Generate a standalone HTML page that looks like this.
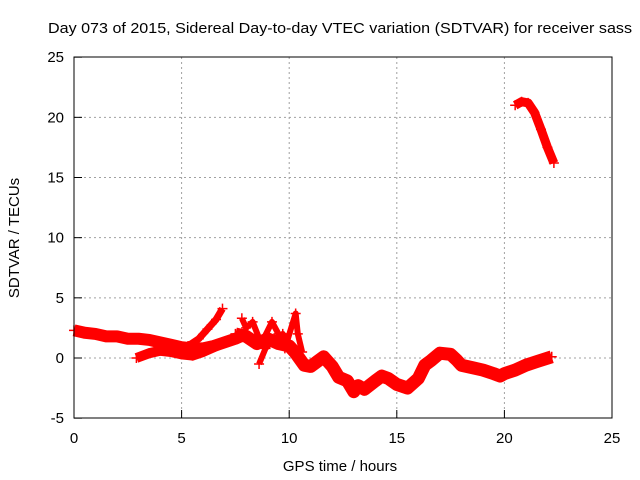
<!DOCTYPE html>
<html><head><meta charset="utf-8"><style>
body{margin:0;background:#fff}
svg{display:block;font-family:"Liberation Sans",sans-serif;font-size:14px}
</style></head><body>
<svg id="chart" width="640" height="480" viewBox="0 0 640 480">
<text x="48" y="33" font-size="15" textLength="584" lengthAdjust="spacingAndGlyphs">Day 073 of 2015, Sidereal Day-to-day VTEC variation (SDTVAR) for receiver sass</text>
<g id="grid"></g>
<g id="axes"></g>
<g id="marks"></g>
<rect x="74" y="57" width="538" height="361" fill="none" stroke="#000" stroke-width="1"/>
<text x="340" y="471" text-anchor="middle" font-size="15">GPS time / hours</text>
<text transform="translate(19,238) rotate(-90)" text-anchor="middle" font-size="15">SDTVAR / TECUs</text>
</svg>
<script>
const xTicks=[0,5,10,15,20,25];
const yTicks=[-5,0,5,10,15,20,25];
const s1T=[0,0.5,1,1.5,2,2.5,3,3.5,4,4.5,5,5.5,6,6.5,7,7.5,8];
const s1V=[2.3,2.1,2.0,1.8,1.8,1.6,1.6,1.5,1.3,1.1,0.9,0.8,0.8,1.0,1.3,1.6,2.0];
const s2T=[2.9,3.5,4,4.5,5,5.5,6,6.5,7,7.5];
const s2V=[0,0.4,0.6,0.5,0.3,0.2,0.5,0.9,1.3,1.6];
const s3T=[5.3,5.8,6.2,6.6,6.9];
const s3V=[1.0,1.6,2.4,3.2,4.1];
const s4T=[7.5,8,8.5,9,9.5,10,10.3,10.7,11,11.3,11.6,12,12.3,12.7,13,13.2,13.5,14,14.3,14.6,15,15.5,16,16.3,16.6,17,17.5,17.8,18,18.5,19,19.5,19.8,20,20.5,21,21.5,22.2];
const s4V=[2.0,1.8,1.2,1.6,1.2,1.0,0.4,-0.6,-0.7,-0.3,0.1,-0.7,-1.6,-1.9,-2.8,-2.3,-2.6,-1.9,-1.5,-1.7,-2.2,-2.5,-1.7,-0.6,-0.2,0.4,0.3,-0.2,-0.6,-0.8,-1.0,-1.3,-1.5,-1.3,-1.0,-0.6,-0.3,0.1];
const s5T=[7.8,8.0,8.3,8.7,9.2,9.5,9.8,10.3,10.4,10.6];
const s5V=[3.3,2.5,3.0,1.2,3.0,2.0,0.8,3.7,2.0,0.5];
const s6T=[8.6,8.9,9.3,9.7,10.1];
const s6V=[-0.5,0.8,1.6,2.0,1.0];
const s7T=[20.5,20.8,21.1,21.4,21.7,22.0,22.3];
const s7V=[21.0,21.3,21.2,20.4,19.0,17.5,16.2];
const X=t=>74+t*538/25;
const Y=v=>358-v*361/30;
const NS="http://www.w3.org/2000/svg";
const grid=document.getElementById('grid'),axes=document.getElementById('axes'),marks=document.getElementById('marks');
function mk(tag,attrs,parent){const e=document.createElementNS(NS,tag);for(const k in attrs)e.setAttribute(k,attrs[k]);parent.appendChild(e);return e;}
xTicks.forEach(t=>{
 if(t>0&&t<25){const g=mk('line',{x1:X(t),x2:X(t),y1:57,y2:418,stroke:'#a0a0a0','stroke-dasharray':'2,3'},grid);
 
 }
 const tk=mk('line',{x1:X(t),x2:X(t),y1:418,y2:410,stroke:'#000'},axes);
 
 
 const l=mk('text',{x:X(t),y:443,'text-anchor':'middle','font-size':15},axes);l.textContent=t;
 
 
});
yTicks.forEach(v=>{
 if(v>-5&&v<25){const g=mk('line',{x1:74,x2:612,y1:Y(v),y2:Y(v),stroke:'#a0a0a0','stroke-dasharray':'2,3'},grid);
 
 }
 const tk=mk('line',{x1:74,x2:82,y1:Y(v),y2:Y(v),stroke:'#000'},axes);
 
 
 const l=mk('text',{x:64,y:Y(v)+5,'text-anchor':'end','font-size':15},axes);l.textContent=v;
 
 
});
function series(T,V,w,name){
 const pts=T.map((t,i)=>X(t)+','+Y(V[i])).join(' ');
 const p=mk('polyline',{points:pts,fill:'none',stroke:'#f00','stroke-width':w,'stroke-linejoin':'round','stroke-linecap':'butt'},marks);
 
 
 T.forEach((t,i)=>{const m=mk('path',{d:`M${X(t)-5},${Y(V[i])}h10M${X(t)},${Y(V[i])-5}v10`,stroke:'#f00','stroke-width':1.5},marks);
 
 });
}
series(s1T,s1V,12,'series-upper-band');
series(s2T,s2V,10,'series-lower-band');
series(s3T,s3V,7,'series-rising-arc');
series(s4T,s4V,13,'series-main-trace');
series(s5T,s5V,6,'series-spikes');
series(s6T,s6V,6,'series-loop');
series(s7T,s7V,9,'series-high-arc');
</script>
</body></html>
